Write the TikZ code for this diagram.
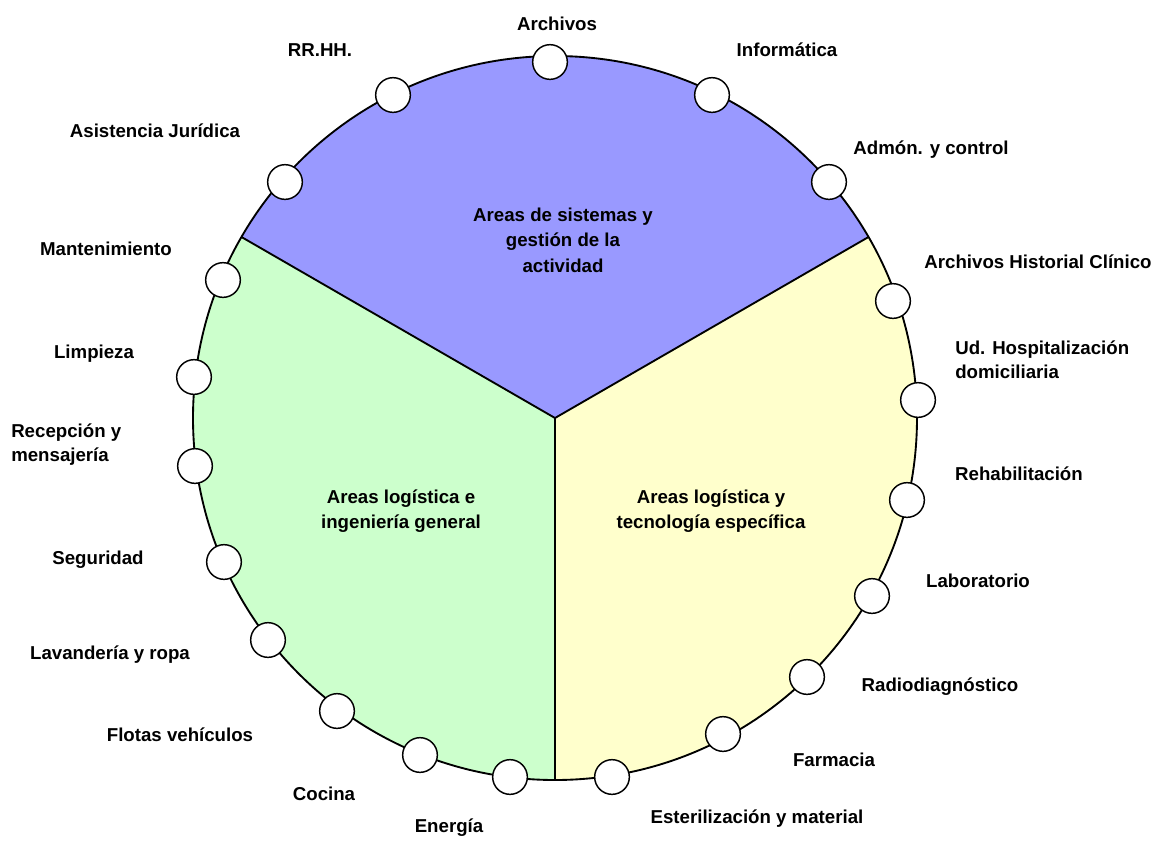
\documentclass[tikz,border=0pt]{standalone}
\usepackage{fontspec}
\setmainfont{Liberation Sans}
\begin{document}
\begin{tikzpicture}[x=0.75pt,y=-0.75pt,
  lbl/.style={font=\fontsize{14}{18}\selectfont\bfseries, inner sep=0pt},
  ctr/.style={font=\fontsize{14}{19}\selectfont\bfseries, align=center, inner sep=0pt},
  dot/.style={circle, draw=black, line width=1.1pt, fill=white, minimum size=26pt, inner sep=0pt},
  sector/.style={draw=black, line width=1.4pt}]
\useasboundingbox (0,0) rectangle (1160,840);
\coordinate (O) at (555,418);
\def\R{362}
% sectors (y axis points down: screen angle a is drawn as -a)
\fill[fill={rgb,255:red,153;green,153;blue,255}] (O) -- ++(210:\R) arc[start angle=210,end angle=330,radius=\R] -- cycle;
\fill[fill={rgb,255:red,204;green,255;blue,204}] (O) -- ++(90:\R) arc[start angle=90,end angle=210,radius=\R] -- cycle;
\fill[fill={rgb,255:red,255;green,255;blue,204}] (O) -- ++(-30:\R) arc[start angle=-30,end angle=90,radius=\R] -- cycle;
\draw[sector] (O) circle[radius=\R];
\draw[sector] (O) -- ++(210:\R);
\draw[sector] (O) -- ++(330:\R);
\draw[sector] (O) -- ++(90:\R);
% centre texts
\node[ctr] (t1) at (563,240) {Areas de sistemas y\\gestión de la\\actividad};
\node[ctr] (t2) at (401,511) {Areas logística e\\ingeniería general};
\node[ctr] (t3) at (711,511) {Areas logística y\\tecnología específica};
% small circles
\node[dot] (c1) at (550,62) {};
\node[dot] (c2) at (712,95) {};
\node[dot] (c3) at (829,182) {};
\node[dot] (c4) at (393,95) {};
\node[dot] (c5) at (285,182) {};
\node[dot] (c6) at (223,280) {};
\node[dot] (c7) at (194,377) {};
\node[dot] (c8) at (195,466) {};
\node[dot] (c9) at (224,562) {};
\node[dot] (c10) at (268,640) {};
\node[dot] (c11) at (337,711) {};
\node[dot] (c12) at (420,755) {};
\node[dot] (c13) at (510,777) {};
\node[dot] (c14) at (612,777) {};
\node[dot] (c15) at (723,734) {};
\node[dot] (c16) at (807,677) {};
\node[dot] (c17) at (872,596) {};
\node[dot] (c18) at (907,500) {};
\node[dot] (c19) at (918,400) {};
\node[dot] (c20) at (893,301) {};
% labels
\node[lbl] (l1) at (557,24) {Archivos};
\node[lbl] (l2) at (787,50) {Informática};
\node[lbl] (l3) at (931,150) {Admón. y control};
\node[lbl] (l4) at (320,50) {RR.HH.};
\node[lbl] (l5) at (155,131) {Asistencia Jurídica};
\node[lbl] (l6) at (106,249) {Mantenimiento};
\node[lbl] (l7) at (94,354) {Limpieza};
\node[lbl, anchor=west, align=left] (l8) at (11,445) {Recepción y\\mensajería};
\node[lbl] (l9) at (98,560) {Seguridad};
\node[lbl] (l10) at (110,655) {Lavandería y ropa};
\node[lbl] (l11) at (180,735) {Flotas vehículos};
\node[lbl] (l12) at (324,794) {Cocina};
\node[lbl] (l13) at (449,828) {Energía};
\node[lbl] (l14) at (757,819) {Esterilización y material};
\node[lbl] (l15) at (834,760) {Farmacia};
\node[lbl] (l16) at (940,687) {Radiodiagnóstico};
\node[lbl] (l17) at (978,581) {Laboratorio};
\node[lbl] (l18) at (1019,474) {Rehabilitación};
\node[lbl, anchor=west, align=left] (l19) at (955,360) {Ud. Hospitalización\\domiciliaria};
\node[lbl] (l20) at (1038,262) {Archivos Historial Clínico};
\end{tikzpicture}
\end{document}
